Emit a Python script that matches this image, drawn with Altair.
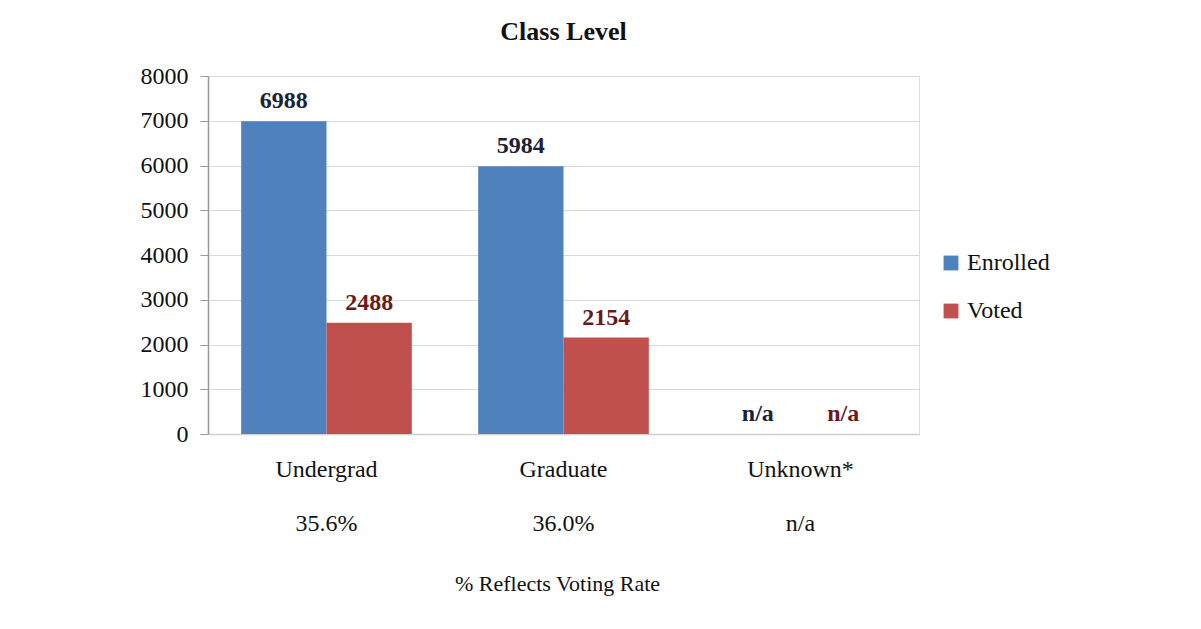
import altair as alt
import pandas as pd

categories = ["Undergrad", "Graduate", "Unknown*"]
series = ["Enrolled", "Voted"]
enrolled = [6988, 5984, None]
voted = [2488, 2154, None]
enrolled_labels = ["6988", "5984", "n/a"]
voted_labels = ["2488", "2154", "n/a"]
voting_rates = ["35.6%", "36.0%", "n/a"]

rows = []
for i, c in enumerate(categories):
    rows.append({"cat": c, "series": "Enrolled", "value": enrolled[i],
                 "label": enrolled_labels[i], "ly": enrolled[i] or 0})
    rows.append({"cat": c, "series": "Voted", "value": voted[i],
                 "label": voted_labels[i], "ly": voted[i] or 0})
df = pd.DataFrame(rows)
rates_df = pd.DataFrame({"cat": categories, "rate": voting_rates})

FONT = "Liberation Serif"
colors = ["#4F81BD", "#C0504D"]
label_colors = ["#1B2236", "#6B1A1A"]

x_enc = alt.X("cat:N", sort=categories,
              scale=alt.Scale(paddingInner=0.28, paddingOuter=0.14),
              axis=alt.Axis(title="% Reflects Voting Rate", titleFont=FONT,
                            titleFontSize=22, titleFontWeight="normal",
                            titleColor="#111", titleY=149, titleX=349,
                            titleBaseline="middle",
                            labelFont=FONT, labelFontSize=24, labelColor="#111",
                            labelAngle=0, labelPadding=23, ticks=False,
                            domainColor="#d0d0d0", domainWidth=1.5))
xoff = alt.XOffset("series:N", sort=series, scale=alt.Scale(paddingInner=0, paddingOuter=0))
y_scale = alt.Scale(domain=[0, 8000], nice=False)

bars = alt.Chart(df).mark_bar().encode(
    x=x_enc,
    xOffset=xoff,
    y=alt.Y("value:Q", scale=y_scale,
            axis=alt.Axis(title=None, values=list(range(0, 8001, 1000)), format="d",
                          labelFont=FONT, labelFontSize=24, labelColor="#111",
                          labelPadding=12, tickSize=8, tickColor="#999",
                          domainColor="#999", domainWidth=1.5,
                          gridColor="#d9d9d9", gridWidth=1)),
    color=alt.Color("series:N", sort=series,
                    scale=alt.Scale(domain=series, range=colors),
                    legend=alt.Legend(title=None, orient="none",
                                      legendX=731, legendY=175,
                                      symbolType="square", symbolSize=220,
                                      symbolStrokeWidth=0,
                                      labelFont=FONT, labelFontSize=24,
                                      labelColor="#111", rowPadding=24,
                                      labelOffset=4)),
)

labels = alt.Chart(df).mark_text(font=FONT, fontSize=24, fontWeight="bold",
                                 baseline="middle", dy=-20).encode(
    x=alt.X("cat:N", sort=categories),
    xOffset=xoff,
    y=alt.Y("ly:Q", scale=y_scale),
    text="label:N",
    color=alt.Color("series:N", sort=series,
                    scale=alt.Scale(domain=series, range=label_colors),
                    legend=None),
)

rates = alt.Chart(rates_df).mark_text(font=FONT, fontSize=24, color="#111",
                                      baseline="middle").encode(
    x=alt.X("cat:N", sort=categories),
    y=alt.value(448),
    text="rate:N",
)

chart = alt.layer(bars, labels, rates).resolve_scale(color="independent").properties(
    width=711, height=358,
    title=alt.TitleParams("Class Level", font=FONT, fontSize=26, fontWeight="bold",
                          color="#111", anchor="middle", offset=19),
    autosize=alt.AutoSizeParams(type="none"),
    padding={"left": 200, "top": 68, "right": 274, "bottom": 187},
).configure_view(stroke=None).configure(background="white")

chart.save("out.html", embed_options={"renderer": "svg", "actions": False})
